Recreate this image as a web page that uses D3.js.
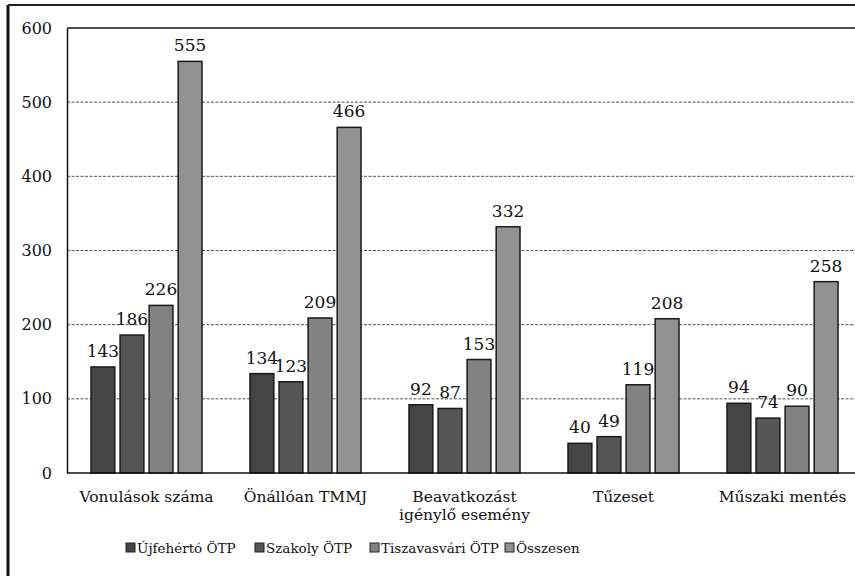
<!DOCTYPE html>
<html>
<head>
<meta charset="utf-8">
<script src="https://cdn.jsdelivr.net/npm/d3@7"></script>
<style>
body { margin: 0; background: #fff; }
svg text { font-family: "DejaVu Serif", "Liberation Serif", serif; fill: #111; }
</style>
</head>
<body>
<div id="chart"></div>
<script>
// data
var categories = ["Vonulások száma", "Önállóan TMMJ", "Beavatkozást|igénylő esemény", "Tűzeset", "Műszaki mentés"];
var seriesNames = ["Újfehértó ÖTP", "Szakoly ÖTP", "Tiszavasvári ÖTP", "Összesen"];
var ujfeherto = [143, 134, 92, 40, 94];
var szakoly = [186, 123, 87, 49, 74];
var tiszavasvari = [226, 209, 153, 119, 90];
var osszesen = [555, 466, 332, 208, 258];
var yTicks = [0, 100, 200, 300, 400, 500, 600];

var allSeries = [ujfeherto, szakoly, tiszavasvari, osszesen];
var colors = ["#454545", "#555555", "#828282", "#929292"];

var width = 855, height = 576;
var svg = d3.select("#chart")
        .append("svg")
        .attr("width", width)
        .attr("height", height)

// outer frame of the scan
svg.append("line").attr("x1", 8).attr("x2", 8).attr("y1", 5).attr("y2", height)
    .attr("stroke", "#111").attr("stroke-width", 3)
svg.append("line").attr("x1", 8).attr("x2", width).attr("y1", 5).attr("y2", 5)
    .attr("stroke", "#222").attr("stroke-width", 2)

var x0 = d3.scaleBand().domain(categories).range([67, 862]).paddingInner(0).paddingOuter(0);
var x1 = d3.scaleBand().domain(seriesNames).range([24, 159 - 24]).paddingInner(0.18);
var y = d3.scaleLinear().domain([0, 600]).range([473, 28]);

// gridlines
svg.append("g")
    .selectAll("line")
    .data(yTicks.filter(function(d) { return d > 0 && d < 600; }))
    .enter()
    .append("line")
    .attr("x1", 67).attr("x2", width)
    .attr("y1", function(d) { return y(d); })
    .attr("y2", function(d) { return y(d); })
    .attr("stroke", "#555")
    .attr("stroke-width", 1)
    .attr("stroke-dasharray", "3,1.5")

// plot top border
svg.append("line").attr("x1", 67).attr("x2", width).attr("y1", y(600)).attr("y2", y(600))
    .attr("stroke", "#111").attr("stroke-width", 1.5)

// y axis labels
var yAxis = d3.axisLeft(y).tickValues(yTicks).tickSize(0).tickPadding(15);
var gy = svg.append("g").attr("transform", "translate(67,0)").call(yAxis);
gy.attr("font-family", null);
gy.select(".domain").attr("stroke", "#111").attr("stroke-width", 1.5);
gy.selectAll("text").style("font-size", "16px").attr("fill", "#111");

// bars
var rows = categories.map(function(c, i) {
    return { cat: c, vals: allSeries.map(function(s, k) { return { name: seriesNames[k], k: k, v: s[i] }; }) };
});

var groups = svg.append("g")
    .selectAll("g")
    .data(rows)
    .enter()
    .append("g")
    .attr("transform", function(d) { return "translate(" + x0(d.cat) + ",0)"; })

groups.selectAll("rect")
    .data(function(d) { return d.vals; })
    .enter()
    .append("rect")
    .attr("x", function(d) { return x1(d.name); })
    .attr("y", function(d) { return y(d.v); })
    .attr("width", x1.bandwidth())
    .attr("height", function(d) { return y(0) - y(d.v); })
    .attr("fill", function(d) { return colors[d.k]; })
    .attr("stroke", "#1a1a1a")
    .attr("stroke-width", 1.5)

groups.selectAll(".val")
    .data(function(d) { return d.vals; })
    .enter()
    .append("text")
    .attr("class", "val")
    .attr("x", function(d) { return x1(d.name) + x1.bandwidth() / 2; })
    .attr("y", function(d) { return y(d.v) - 10; })
    .attr("text-anchor", "middle")
    .style("font-size", "17px")
    .text(function(d) { return d.v; })

// x axis line
svg.append("line").attr("x1", 67).attr("x2", width).attr("y1", y(0)).attr("y2", y(0))
    .attr("stroke", "#111").attr("stroke-width", 1.5)

// category labels
groups.append("text")
    .attr("x", x0.bandwidth() / 2)
    .attr("y", 502)
    .attr("text-anchor", "middle")
    .style("font-size", "15.5px")
    .each(function(d) {
        var parts = d.cat.split("|");
        var t = d3.select(this);
        parts.forEach(function(p, i) {
            t.append("tspan").attr("x", x0.bandwidth() / 2).attr("dy", i == 0 ? 0 : 18).text(p);
        });
    })

// legend
var legendX = [126, 255, 370, 505];
var legend = svg.append("g")
    .selectAll("g")
    .data(seriesNames)
    .enter()
    .append("g")
    .attr("transform", function(d, i) { return "translate(" + legendX[i] + ",553)"; })

legend.append("rect")
    .attr("x", 0).attr("y", -10)
    .attr("width", 9).attr("height", 9)
    .attr("fill", function(d, i) { return colors[i]; })
    .attr("stroke", "#222")

legend.append("text")
    .attr("x", 11).attr("y", 0)
    .style("font-size", "13.5px")
    .text(function(d) { return d; })
</script>
</body>
</html>
